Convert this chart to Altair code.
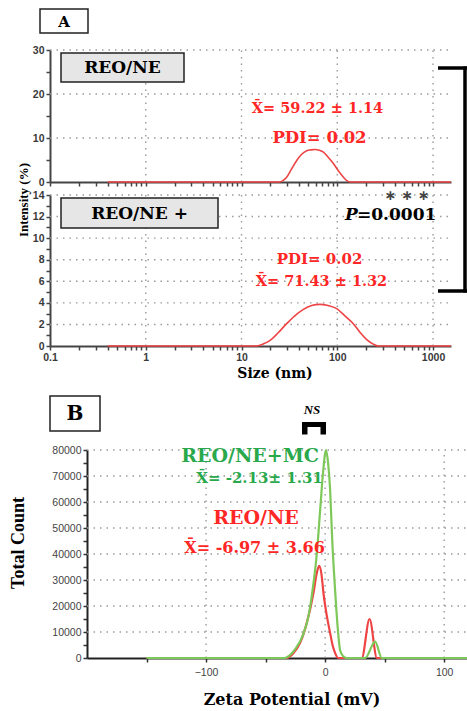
import altair as alt
import pandas as pd

# ---------------- Panel A : size distribution (log scale) ----------------
a_top_size = [0.4, 2, 10, 20, 25, 27, 29.6, 33, 37.7, 42, 48, 53, 58.6, 65, 71.6, 80, 91, 103, 116, 126, 136, 200, 500, 1540]
a_top_intensity = [0, 0, 0, 0, 0, 0.3, 1.1, 2.8, 4.9, 6.2, 7.1, 7.3, 7.4, 7.2, 6.8, 5.7, 4.2, 2.5, 1.1, 0.3, 0, 0, 0, 0]

a_bot_size = [0.4, 2, 10, 14.4, 17, 19.9, 24, 29.6, 36, 44.3, 54, 66, 80, 98.6, 120, 147, 175, 203, 235, 269, 500, 1540]
a_bot_intensity = [0, 0, 0, 0, 0.2, 0.53, 1.2, 2.07, 2.8, 3.4, 3.75, 3.86, 3.75, 3.46, 2.8, 2.07, 1.2, 0.59, 0.2, 0, 0, 0]

a_x_ticks = [0.1, 0.2, 0.3, 0.4, 0.5, 0.6, 0.7, 0.8, 0.9,
             1, 2, 3, 4, 5, 6, 7, 8, 9,
             10, 20, 30, 40, 50, 60, 70, 80, 90,
             100, 200, 300, 400, 500, 600, 700, 800, 900, 1000]
a_x_grid = [1, 10, 100, 1000]
a_top_y_ticks = [0, 5, 10, 15, 20, 25, 30]
a_top_y_grid = [10, 20, 30]
a_bot_y_ticks = [0, 1, 2, 3, 4, 5, 6, 7, 8, 9, 10, 11, 12, 13, 14]
a_bot_y_grid = [2, 4, 6, 8, 10, 12, 14]

# ---------------- Panel B : zeta potential ----------------
b_zeta_green = [-150, -40, -34, -30, -25, -18.5, -14, -10, -7, -4, -2, 0.8, 2.5, 4.2, 6, 8.4, 10.5, 12.6, 15, 18, 30, 33.6, 42, 47.6, 120]
b_count_green = [0, 0, 0, 900, 3500, 9000, 16000, 28000, 40000, 58000, 70000, 80000, 75000, 64600, 45000, 26000, 12000, 3000, 800, 0, 0, 0, 6300, 0, 0]

b_zeta_red = [-150, -32, -26.6, -21, -15.4, -9.8, -7, -5, -3, -1.4, 1.5, 4.2, 6.5, 8.4, 11, 30.8, 37.3, 43.5, 120]
b_count_red = [0, 0, 1900, 5800, 13500, 25000, 32700, 35400, 32000, 25000, 16000, 9600, 4500, 1900, 0, 0, 15000, 0, 0]

b_x_ticks = [-150, -100, -50, 0, 50, 100]
b_x_grid = [-100, 0, 100]
b_y_ticks = [0, 5000, 10000, 15000, 20000, 25000, 30000, 35000, 40000, 45000,
             50000, 55000, 60000, 65000, 70000, 75000, 80000]
b_y_grid = [10000, 20000, 30000, 40000, 50000, 60000, 70000, 80000]
b_series = ["REO/NE", "REO/NE+MC"]

# ---------------- Texts ----------------
txt_A = ["A", "REO/NE", "REO/NE +", "X\u0304= 59.22 \u00b1 1.14", "PDI= 0.02", "PDI= 0.02",
         "X\u0304= 71.43 \u00b1 1.32", "\u2217 \u2217 \u2217", "P", "=0.0001", "Intensity (%)", "Size (nm)"]
txt_B = ["B", "NS", "REO/NE+MC", "X\u0304= -2.13\u00b1 1.31", "REO/NE", "X\u0304= -6.97 \u00b1 3.66",
         "Total Count", "Zeta Potential (mV)"]

RED_LINE = "#ee4444"
RED_TXT = "#ff2626"
GREEN_LINE = "#7ec85a"
GREEN_TXT = "#2aa84c"
SERIF = "DejaVu Serif"
GRID_COLOR = "#9a9a9a"

W, H = 467, 711

# ---------------- scales ----------------
xA_dom = [0.1, 1540]
yA1_dom = [0, 30]
yA2_dom = [0, 14]
xB_dom = [-200, 120]
yB_dom = [0, 80000]
xA = alt.Scale(type="log", domain=xA_dom, range=[50, 451], nice=False)
yA1 = alt.Scale(domain=yA1_dom, range=[182, 50], nice=False, zero=False)
yA2 = alt.Scale(domain=yA2_dom, range=[346, 195], nice=False, zero=False)
xB = alt.Scale(domain=xB_dom, range=[87, 468], nice=False, zero=False)
yB = alt.Scale(domain=yB_dom, range=[658, 450], nice=False, zero=False)

base_axis = dict(domainColor="#444", domainWidth=2, tickColor="#444", tickWidth=1.5, tickSize=4,
                 labelFont="Liberation Sans", labelFontSize=10.5, labelFontWeight="bold",
                 labelColor="#3a3a3a", grid=False,
                 labelOverlap=False, labelFlush=False, title=None, labelPadding=2)

log_label = "indexof([0.1, 1, 10, 100, 1000], datum.value) >= 0 ? format(datum.value, '~g') : ''"

axA1_x = alt.Axis(orient="bottom", offset=182 - H, values=a_x_ticks, labels=False, **base_axis)
axA1_y = alt.Axis(orient="left", offset=-50, values=a_top_y_ticks, format="d",
                  labelExpr="datum.value % 10 == 0 ? datum.label : ''", **base_axis)
axA2_x = alt.Axis(orient="bottom", offset=346 - H, values=a_x_ticks, labelExpr=log_label, **base_axis)
axA2_y = alt.Axis(orient="left", offset=-50, values=a_bot_y_ticks, format="d",
                  labelExpr="datum.value % 2 == 0 ? datum.label : ''", **base_axis)

base_axis_b = dict(base_axis)
base_axis_b.update(labelFontWeight="normal", labelColor="#444", domainColor="#222", tickColor="#333")
axB_x = alt.Axis(orient="bottom", offset=658 - H, values=b_x_ticks, format="d",
                 labelExpr="datum.value % 100 == 0 ? datum.label : ''",
                 **dict(base_axis_b, labelPadding=5))
axB_y = alt.Axis(orient="left", offset=-87, values=b_y_ticks, format="d",
                 labelExpr="datum.value % 10000 == 0 ? datum.label : ''", **base_axis_b)

# ---------------- data frames ----------------
dfA1 = pd.DataFrame({"size": a_top_size, "intensity": a_top_intensity})
dfA2 = pd.DataFrame({"size": a_bot_size, "intensity": a_bot_intensity})
dfB = pd.concat([
    pd.DataFrame({"zeta": b_zeta_red, "count": b_count_red, "series": b_series[0]}),
    pd.DataFrame({"zeta": b_zeta_green, "count": b_count_green, "series": b_series[1]}),
], ignore_index=True)
one = pd.DataFrame({"k": [0]})


def vgrid(vals, xs, ys, ydom):
    return alt.Chart(pd.DataFrame({"v": vals})).mark_rule(
        color=GRID_COLOR, strokeWidth=1.4, strokeDash=[1.5, 5]).encode(
        x=alt.X("v:Q", scale=xs, axis=None),
        y=alt.Y(datum=ydom[0], scale=ys, axis=None),
        y2=alt.Y2(datum=ydom[1]))


def hgrid(vals, ys, xs, xdom):
    return alt.Chart(pd.DataFrame({"v": vals})).mark_rule(
        color=GRID_COLOR, strokeWidth=1.4, strokeDash=[1.5, 5]).encode(
        y=alt.Y("v:Q", scale=ys, axis=None),
        x=alt.X(datum=xdom[0], scale=xs, axis=None),
        x2=alt.X2(datum=xdom[1]))


lineA1 = alt.Chart(dfA1).mark_line(color=RED_LINE, strokeWidth=1.6, interpolate="monotone").encode(
    x=alt.X("size:Q", scale=xA, axis=axA1_x),
    y=alt.Y("intensity:Q", scale=yA1, axis=axA1_y))
lineA2 = alt.Chart(dfA2).mark_line(color=RED_LINE, strokeWidth=1.6, interpolate="monotone").encode(
    x=alt.X("size:Q", scale=xA, axis=axA2_x),
    y=alt.Y("intensity:Q", scale=yA2, axis=axA2_y))
lineB = alt.Chart(dfB).mark_line(strokeWidth=2.2, interpolate="monotone").encode(
    x=alt.X("zeta:Q", scale=xB, axis=axB_x),
    y=alt.Y("count:Q", scale=yB, axis=axB_y),
    color=alt.Color("series:N", scale=alt.Scale(domain=b_series, range=[RED_LINE, GREEN_LINE]), legend=None),
    order=alt.Order("series:N"))


def box(x1, x2, y1, y2, fill, sw=1.5):
    return alt.Chart(one).mark_rect(fill=fill, stroke="#222", strokeWidth=sw).encode(
        x=alt.value(x1), x2=alt.value(x2), y=alt.value(y1), y2=alt.value(y2))


def solid(x1, x2, y1, y2):
    return alt.Chart(one).mark_rect(fill="black").encode(
        x=alt.value(x1), x2=alt.value(x2), y=alt.value(y1), y2=alt.value(y2))


def rule(x1, x2, y1, y2, w=3.5):
    return alt.Chart(one).mark_rule(color="black", strokeWidth=w).encode(
        x=alt.value(x1), x2=alt.value(x2), y=alt.value(y1), y2=alt.value(y2))


def text(s, x, y, size, color="black", font=SERIF, style="normal", align="center", angle=0, weight="bold"):
    return alt.Chart(one).mark_text(text=s, font=font, fontSize=size, fontWeight=weight, fontStyle=style,
                                    color=color, align=align, baseline="middle", angle=angle).encode(
        x=alt.value(x), y=alt.value(y))


layers = [
    # gridlines
    vgrid(a_x_grid, xA, yA1, yA1_dom),
    hgrid(a_top_y_grid, yA1, xA, xA_dom),
    vgrid(a_x_grid, xA, yA2, yA2_dom),
    hgrid(a_bot_y_grid, yA2, xA, xA_dom),
    vgrid(b_x_grid, xB, yB, yB_dom),
    hgrid(b_y_grid, yB, xB, xB_dom),
    # curves + axes
    lineA1, lineA2, lineB,
    # panel A decorations
    box(40, 88, 9, 33, "white"),
    text(txt_A[0], 64, 21.5, 15),
    box(61, 184, 53, 82, "#e6e6e6"),
    text(txt_A[1], 122.5, 68, 17),
    box(61, 218, 198, 228, "#e6e6e6"),
    text(txt_A[2], 139.5, 213.5, 17),
    text(txt_A[3], 317.5, 109, 14.5, RED_TXT),
    text(txt_A[4], 319.5, 138, 16.5, RED_TXT),
    text(txt_A[5], 319.5, 259, 15, RED_TXT),
    text(txt_A[6], 321.5, 282, 14.5, RED_TXT),
    text(txt_A[7], 407, 195.5, 14, "#444", font="DejaVu Sans"),
    text(txt_A[8], 345, 215, 17, style="italic", align="left"),
    text(txt_A[9], 357, 215, 17, align="left"),
    text(txt_A[10], 24, 200, 13, font="Liberation Serif", angle=270),
    text(txt_A[11], 275, 374, 14),
    rule(438, 467, 68, 68),
    rule(465, 465, 66.5, 292.5),
    rule(438, 467, 291, 291),
    # panel B decorations
    box(50, 100, 396, 431, "white"),
    text(txt_B[0], 75, 414, 20),
    text(txt_B[1], 312, 410, 13, font="Liberation Serif", style="italic"),
    solid(302, 326, 422, 427),
    solid(302, 307.5, 422, 434.5),
    solid(320.5, 326, 422, 434.5),
    text(txt_B[2], 250, 456, 19, GREEN_TXT),
    text(txt_B[3], 259.5, 478, 15, GREEN_TXT),
    text(txt_B[4], 256, 518, 19, RED_TXT),
    text(txt_B[5], 254.5, 548, 16, RED_TXT),
    text(txt_B[6], 19, 543, 18, font="Liberation Serif", angle=270),
    text(txt_B[7], 292, 700, 16),
]

chart = alt.layer(*layers).resolve_scale(
    x="independent", y="independent", color="independent"
).resolve_axis(
    x="independent", y="independent"
).properties(
    width=W, height=H, padding=0, background="white",
    autosize=alt.AutoSizeParams(type="none"),
).configure_view(stroke=None)

chart.save("out.html", embed_options={"renderer": "svg", "actions": False})
